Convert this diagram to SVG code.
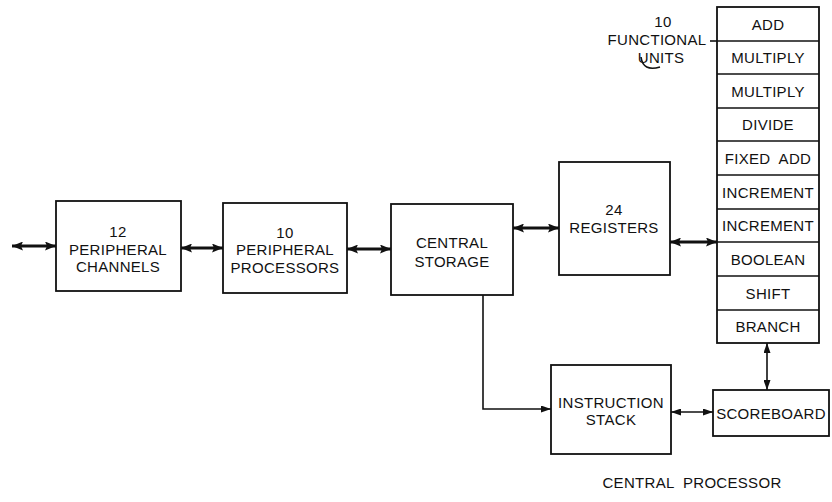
<svg xmlns="http://www.w3.org/2000/svg" width="832" height="502" viewBox="0 0 832 502">
<style>
.box{fill:#fff;stroke:#111;stroke-width:1.8}
.t{font-family:"Liberation Sans",Arial,sans-serif;font-size:15px;fill:#111;text-anchor:middle;letter-spacing:0.3px}
.thick{stroke:#111;stroke-width:3;fill:none}
.thin{stroke:#111;stroke-width:1.6;fill:none}
</style>
<defs>
<marker id="ah" markerUnits="userSpaceOnUse" markerWidth="11" markerHeight="9" refX="11" refY="4.5" orient="auto-start-reverse">
<path d="M0,0 L11,4.5 L0,9 L2,4.5 z" fill="#111"/>
</marker>
<marker id="as" markerUnits="userSpaceOnUse" markerWidth="10" markerHeight="7" refX="10" refY="3.5" orient="auto-start-reverse">
<path d="M0,0 L10,3.5 L0,7 z" fill="#111"/>
</marker>
</defs>
<rect width="832" height="502" fill="#fff"/>

<g id="peripheral-channels">
<rect class="box" x="56" y="201" width="125" height="90"/>
<text class="t" x="118" y="237">12</text>
<text class="t" x="118" y="255">PERIPHERAL</text>
<text class="t" x="118" y="272">CHANNELS</text>
</g>

<g id="peripheral-processors">
<rect class="box" x="223" y="203" width="124" height="90"/>
<text class="t" x="285" y="238">10</text>
<text class="t" x="285" y="255">PERIPHERAL</text>
<text class="t" x="285" y="273">PROCESSORS</text>
</g>

<g id="central-storage">
<rect class="box" x="391" y="204" width="122" height="91"/>
<text class="t" x="452" y="248">CENTRAL</text>
<text class="t" x="452" y="267">STORAGE</text>
</g>

<g id="registers">
<rect class="box" x="559" y="162" width="111" height="113"/>
<text class="t" x="614" y="215">24</text>
<text class="t" x="614" y="233">REGISTERS</text>
</g>

<g id="functional-units-label">
<text class="t" x="663" y="27">10</text>
<text class="t" x="657" y="45">FUNCTIONAL</text>
<text class="t" x="661" y="63">UNITS</text>
<path d="M710,41 L717,41" class="thin"/>
<path d="M641,57 Q643,72 660,67" class="thin" stroke-width="1.2"/>
</g>

<g id="functional-units">
<rect class="box" x="717" y="7" width="102" height="336"/>
<g class="thin">
<line x1="717" y1="41" x2="819" y2="41"/>
<line x1="717" y1="74" x2="819" y2="74"/>
<line x1="717" y1="108" x2="819" y2="108"/>
<line x1="717" y1="141" x2="819" y2="141"/>
<line x1="717" y1="175" x2="819" y2="175"/>
<line x1="717" y1="209" x2="819" y2="209"/>
<line x1="717" y1="242" x2="819" y2="242"/>
<line x1="717" y1="276" x2="819" y2="276"/>
<line x1="717" y1="310" x2="819" y2="310"/>
</g>
<text class="t" x="768" y="30">ADD</text>
<text class="t" x="768" y="63">MULTIPLY</text>
<text class="t" x="768" y="97">MULTIPLY</text>
<text class="t" x="768" y="130">DIVIDE</text>
<text class="t" x="768" y="164" xml:space="preserve">FIXED  ADD</text>
<text class="t" x="768" y="198">INCREMENT</text>
<text class="t" x="768" y="231">INCREMENT</text>
<text class="t" x="768" y="265">BOOLEAN</text>
<text class="t" x="768" y="299">SHIFT</text>
<text class="t" x="768" y="332">BRANCH</text>
</g>

<g id="instruction-stack">
<rect class="box" x="551" y="365" width="120" height="89"/>
<text class="t" x="611" y="408">INSTRUCTION</text>
<text class="t" x="611" y="425">STACK</text>
</g>

<g id="scoreboard">
<rect class="box" x="713" y="390" width="116" height="46"/>
<text class="t" x="771" y="419">SCOREBOARD</text>
</g>

<g id="caption">
<text class="t" x="692" y="488" xml:space="preserve">CENTRAL  PROCESSOR</text>
</g>

<g id="connectors">
<line class="thick" x1="12" y1="246" x2="56" y2="246" marker-start="url(#ah)" marker-end="url(#ah)"/>
<line class="thick" x1="181" y1="248" x2="223" y2="248" marker-start="url(#ah)" marker-end="url(#ah)"/>
<line class="thick" x1="347" y1="249" x2="391" y2="249" marker-start="url(#ah)" marker-end="url(#ah)"/>
<line class="thick" x1="513" y1="228" x2="559" y2="228" marker-start="url(#ah)" marker-end="url(#ah)"/>
<line class="thick" x1="670" y1="242" x2="717" y2="242" marker-start="url(#ah)" marker-end="url(#ah)"/>
<polyline class="thin" points="483,295 483,409 551,409" marker-end="url(#as)"/>
<line class="thin" x1="671" y1="412" x2="713" y2="412" marker-start="url(#as)" marker-end="url(#as)"/>
<line class="thin" x1="767" y1="343" x2="767" y2="390" marker-start="url(#as)" marker-end="url(#as)"/>
</g>
</svg>
